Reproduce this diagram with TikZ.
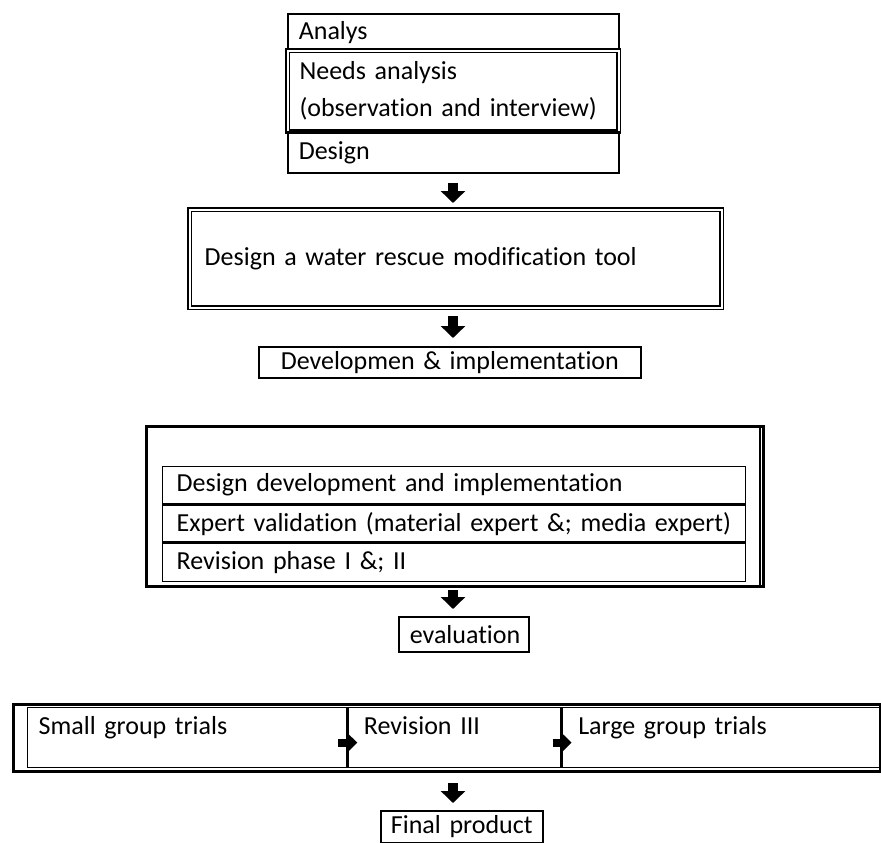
\documentclass[tikz,border=0pt]{standalone}
\usepackage{fontspec}
\setmainfont{Carlito}[Ligatures=CommonOff]
\usetikzlibrary{arrows.meta}

\begin{document}
\begin{tikzpicture}[x=1pt,y=-1pt,font=\fontsize{26}{37}\selectfont,
  box/.style={draw,line width=1.6pt,anchor=north west,inner xsep=11pt,
              inner ysep=0pt,align=left},
  dbl/.style={box,double,double distance=2pt,line width=1.1pt},
  cell/.style={box,line width=1.3pt,text height=27pt,text depth=33pt},
  downarrow/.style={line width=10pt,-{Triangle[length=12pt,width=24pt]}},
  sidearrow/.style={line width=8pt,-{Triangle[length=9pt,width=17pt]}}]
  \useasboundingbox (0,0) rectangle (881,843);

  % analysis stage
  \node[box,text width=309pt,minimum height=37pt] (analys) at (287,13) {Analys};
  \node[dbl,text width=307pt,minimum height=81pt,inner xsep=12pt] (needs) at (287,50)
    {Needs analysis\\(observation and interview)};
  \node[box,text width=309pt,minimum height=41pt] (design) at (287,131) {Design};

  \node[dbl,line width=1.4pt,text width=502pt,minimum height=98pt,inner xsep=15pt]
    (tool) at (189,209) {Design a water rescue modification tool};
  \draw[downarrow,shorten <=9pt,shorten >=6pt] (design.south -| 453,0) -- (tool.north -| 453,0);

  \node[box,align=center,text width=360pt,minimum height=31pt] (dev) at (258,346)
    {Developmen \& implementation};
  \draw[downarrow,shorten <=8pt,shorten >=8pt] (tool.south -| 453,0) -- (dev.north -| 453,0);

  % development stage
  \node[box,line width=3pt,minimum width=617pt,minimum height=160pt] (devframe) at (145,425) {};
  \draw[line width=1.2pt] ([xshift=-5pt]devframe.north east) -- ([xshift=-5pt]devframe.south east);
  \node[box,line width=1.4pt,text width=555pt,minimum height=37pt,inner xsep=14pt]
    (row1) at (162,466) {Design development and implementation};
  \node[box,line width=1.4pt,text width=555pt,minimum height=37pt,inner xsep=14pt]
    (row2) at (row1.south west) {Expert validation (material expert \&; media expert)};
  \node[box,line width=1.4pt,text width=555pt,minimum height=38pt,inner xsep=14pt]
    (row3) at (row2.south west) {Revision phase I \&; II};

  \node[box,align=center,text width=108pt,minimum height=35pt] (eval) at (398,616) {evaluation};
  \draw[downarrow,shorten <=2pt,shorten >=7pt] (devframe.south -| 453,0) -- (eval.north -| 453,0);

  % trials
  \node[box,line width=3pt,minimum width=867pt,minimum height=67pt] (trialframe) at (12,703) {};
  \node[cell,text width=297pt] (small) at (27,707) {Small group trials};
  \node[cell,text width=181pt,inner xsep=16pt] (revision) at (small.north east) {Revision III};
  \node[cell,text width=288pt,inner xsep=16pt] (large) at (revision.north east) {Large group trials};
  \draw[sidearrow] ([xshift=-9pt,yshift=-5pt]small.east) -- ([xshift=10pt,yshift=-5pt]small.east);
  \draw[sidearrow] ([xshift=-9pt,yshift=-5pt]revision.east) -- ([xshift=10pt,yshift=-5pt]revision.east);

  \node[box,align=center,text width=150pt,minimum height=32pt,inner xsep=6pt] (final) at (380,810) {Final product};
  \draw[downarrow,shorten <=10pt,shorten >=7pt] (trialframe.south -| 453,0) -- (final.north -| 453,0);
\end{tikzpicture}
\end{document}
